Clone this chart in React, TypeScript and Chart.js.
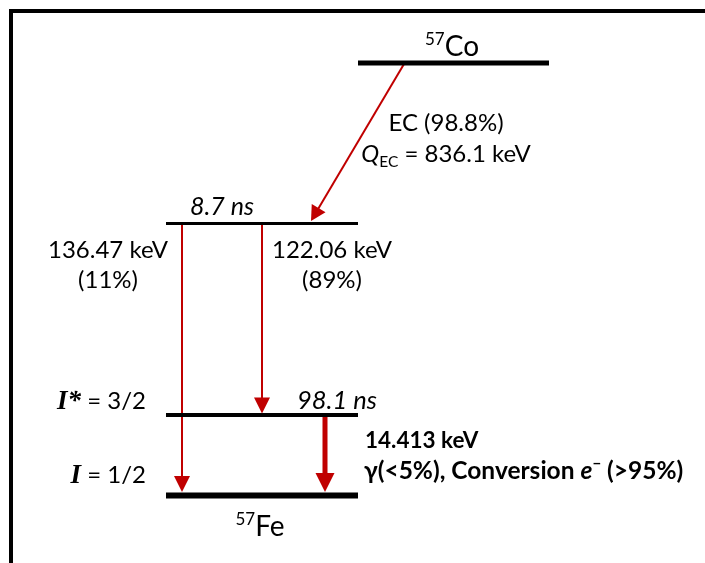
import { useEffect, useRef } from 'react';
import { Chart, registerables } from 'chart.js';

Chart.register(...registerables);

// ---- Decay scheme of 57Co -> 57Fe (schematic layout units, y grows downward) ----
const levelNames = ['57Co', '136.47 keV', '14.413 keV', 'ground'];
const levelRow = [63, 223.5, 415, 495.5];
const levelFrom = [358, 166, 166, 166];
const levelTo = [549, 358, 358, 358];

// transitions: start / end points in layout units
const transitionNames = ['EC', '136.47 keV', '122.06 keV', '14.413 keV'];
const transitionX0 = [404, 182, 262, 325];
const transitionY0 = [64, 225, 225, 417];
const transitionX1 = [311, 182, 262, 325];
const transitionY1 = [221, 492, 413.5, 492];

// label texts
const energyLabels = ['136.47 keV', '122.06 keV', '14.413 keV'];
const branchLabels = ['(11%)', '(89%)'];
const ecBranch = 'EC (98.8%)';
const qValue = ' = 836.1 keV';
const lifetimes = ['8.7 ns', '98.1 ns'];
const spins = ['3/2', '1/2'];

const RED = '#C00000';
const SANS = 'Lato, "Open Sans", sans-serif';
const SERIF = '"Liberation Serif", "DejaVu Serif", serif';

type Run = { t: string; size: number; weight?: string; style?: string; family?: string; dy?: number };
type Label = { x: number; y: number; align: 'left' | 'center' | 'right'; runs: Run[] };

const fontOf = (r: Run) => `${r.style || 'normal'} ${r.weight || 'normal'} ${r.size}px ${r.family || SANS}`;

const labels: Label[] = [
  { x: 452, y: 56, align: 'center', runs: [{ t: '57', size: 17, dy: -11 }, { t: 'Co', size: 28 }] },
  { x: 446, y: 131, align: 'center', runs: [{ t: ecBranch, size: 24 }] },
  {
    x: 446, y: 162, align: 'center',
    runs: [{ t: 'Q', size: 24, style: 'italic' }, { t: 'EC', size: 15.5, dy: 5 }, { t: qValue, size: 24 }],
  },
  { x: 222, y: 215, align: 'center', runs: [{ t: lifetimes[0], size: 25, style: 'italic' }] },
  { x: 108, y: 258, align: 'center', runs: [{ t: energyLabels[0], size: 24 }] },
  { x: 108, y: 288, align: 'center', runs: [{ t: branchLabels[0], size: 24 }] },
  { x: 332, y: 258, align: 'center', runs: [{ t: energyLabels[1], size: 24 }] },
  { x: 332, y: 288, align: 'center', runs: [{ t: branchLabels[1], size: 24 }] },
  {
    x: 146, y: 409, align: 'right',
    runs: [{ t: 'I*', size: 27, weight: 'bold', style: 'italic', family: SERIF }, { t: ' = ' + spins[0], size: 24 }],
  },
  { x: 337, y: 409, align: 'center', runs: [{ t: lifetimes[1], size: 25.5, style: 'italic' }] },
  {
    x: 146, y: 483, align: 'right',
    runs: [{ t: 'I', size: 27, weight: 'bold', style: 'italic', family: SERIF }, { t: ' = ' + spins[1], size: 24 }],
  },
  { x: 365, y: 448, align: 'left', runs: [{ t: energyLabels[2], size: 22.5, weight: 'bold' }] },
  {
    x: 364, y: 479, align: 'left',
    runs: [
      { t: 'γ(<5%), Conversion ', size: 24.5, weight: 'bold' },
      { t: 'e', size: 24.5, weight: 'bold', style: 'italic' },
      { t: '−', size: 15, weight: 'bold', dy: -10 },
      { t: ' (>95%)', size: 24.5, weight: 'bold' },
    ],
  },
  { x: 260, y: 536, align: 'center', runs: [{ t: '57', size: 17, dy: -11 }, { t: 'Fe', size: 28 }] },
];

const levelWidths = [5, 3, 4, 6];
const transitionWidths = [2, 2, 2, 5];
const headSizes = [
  [16, 15],
  [16, 16],
  [16, 16],
  [19, 19],
];

function drawRuns(ctx: CanvasRenderingContext2D, lab: Label, px: number, py: number) {
  let total = 0;
  const widths = lab.runs.map((r) => {
    ctx.font = fontOf(r);
    const w = ctx.measureText(r.t).width;
    total += w;
    return w;
  });
  let cx = lab.align === 'center' ? px - total / 2 : lab.align === 'right' ? px - total : px;
  lab.runs.forEach((r, i) => {
    ctx.font = fontOf(r);
    ctx.fillText(r.t, cx, py + (r.dy || 0));
    cx += widths[i];
  });
}

const decorPlugin = {
  id: 'decayDecor',
  beforeDraw(chart: Chart) {
    const { ctx, width, height } = chart;
    ctx.save();
    ctx.fillStyle = '#ffffff';
    ctx.fillRect(0, 0, width, height);
    ctx.fillStyle = '#000000';
    ctx.fillRect(9, 9, width - 9, 4);
    ctx.fillRect(9, 9, 4, height - 9);
    ctx.restore();
  },
  afterDatasetsDraw(chart: Chart) {
    const { ctx } = chart;
    const xs = chart.scales.x;
    const ys = chart.scales.y;
    ctx.save();
    // arrowheads at transition ends
    ctx.fillStyle = RED;
    transitionNames.forEach((_, i) => {
      const x0 = xs.getPixelForValue(transitionX0[i]);
      const y0 = ys.getPixelForValue(transitionY0[i]);
      const x1 = xs.getPixelForValue(transitionX1[i]);
      const y1 = ys.getPixelForValue(transitionY1[i]);
      const a = Math.atan2(y1 - y0, x1 - x0);
      const [w, len] = headSizes[i];
      const bx = x1 - Math.cos(a) * len;
      const by = y1 - Math.sin(a) * len;
      const nx = -Math.sin(a) * (w / 2);
      const ny = Math.cos(a) * (w / 2);
      ctx.beginPath();
      ctx.moveTo(x1, y1);
      ctx.lineTo(bx + nx, by + ny);
      ctx.lineTo(bx - nx, by - ny);
      ctx.closePath();
      ctx.fill();
    });
    // labels
    ctx.fillStyle = '#000000';
    ctx.textBaseline = 'alphabetic';
    ctx.textAlign = 'left';
    labels.forEach((lab) => drawRuns(ctx, lab, xs.getPixelForValue(lab.x), ys.getPixelForValue(lab.y)));
    ctx.restore();
  },
};

export default function App() {
  const ref = useRef<HTMLCanvasElement | null>(null);

  useEffect(() => {
    document.body.style.margin = '0';
    document.body.style.overflow = 'hidden';
    const canvas = ref.current;
    if (!canvas) return;

    const levelSets = levelNames.map((name, i) => ({
      label: name,
      data: [
        { x: levelFrom[i], y: levelRow[i] },
        { x: levelTo[i], y: levelRow[i] },
      ],
      borderColor: '#000000',
      borderWidth: levelWidths[i],
      showLine: true,
      pointRadius: 0,
      borderCapStyle: 'butt' as const,
    }));

    const transitionSets = transitionNames.map((name, i) => {
      // shorten the line so the arrowhead tip stays sharp
      const dx = transitionX1[i] - transitionX0[i];
      const dy = transitionY1[i] - transitionY0[i];
      const L = Math.hypot(dx, dy);
      const back = headSizes[i][1] * 0.6;
      return {
        label: name,
        data: [
          { x: transitionX0[i], y: transitionY0[i] },
          { x: transitionX1[i] - (dx / L) * back, y: transitionY1[i] - (dy / L) * back },
        ],
        borderColor: RED,
        borderWidth: transitionWidths[i],
        showLine: true,
        pointRadius: 0,
        borderCapStyle: 'butt' as const,
      };
    });

    const chart = new Chart(canvas, {
      type: 'scatter',
      data: { datasets: [...levelSets, ...transitionSets] },
      options: {
        animation: false,
        responsive: false,
        devicePixelRatio: 1,
        layout: { padding: 0 },
        plugins: { legend: { display: false }, tooltip: { enabled: false } },
        scales: {
          x: { type: 'linear', min: 0, max: 705, display: false },
          y: { type: 'linear', min: 0, max: 563, reverse: true, display: false },
        },
      },
      plugins: [decorPlugin],
    });
    return () => chart.destroy();
  }, []);

  return <canvas ref={ref} width={705} height={563} style={{ display: 'block' }} />;
}
